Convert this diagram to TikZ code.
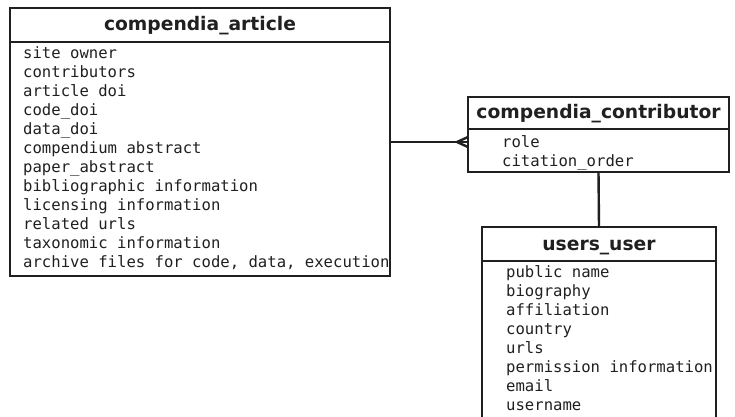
\documentclass[tikz,border=0pt]{standalone}
\usepackage{fontspec}
\setmainfont{DejaVu Sans}
\setmonofont{DejaVu Sans Mono}
\definecolor{linec}{HTML}{202020}
\definecolor{txt}{HTML}{202020}
\tikzset{
  ent/.style={draw=linec, line width=2.4pt, anchor=north west, inner sep=0pt, outer sep=0pt},
  hdr/.style={anchor=base, inner sep=0pt, font=\fontsize{18.7}{22}\selectfont\bfseries, text=txt},
  body/.style={anchor=base west, inner sep=0pt, font=\fontsize{15.6}{19}\selectfont\ttfamily, text=txt},
  rel/.style={draw=linec, line width=2.4pt}
}
\begin{document}
\begin{tikzpicture}[x=1pt,y=-1pt]
\useasboundingbox (0,0) rectangle (735,416);
\clip (0,0) rectangle (735,416);
\fill[white] (0,0) rectangle (735,416);
% compendia_article
\node[ent, minimum width=380, minimum height=34] (arthead) at (10,8) {};
\node[ent, minimum width=380, minimum height=234] (artbody) at (10,42) {};
\node[hdr] (arttitle) at (200,30) {compendia\_article};
\foreach \t [count=\i] in {site owner, contributors, article doi, code\_doi, data\_doi,
  compendium abstract, paper\_abstract, bibliographic information,
  licensing information, related urls, taxonomic information,
  {archive files for code, data, execution}}
  \node[body] (art\i) at (23,{58+19*(\i-1)}) {\t};
% compendia_contributor
\node[ent, minimum width=261, minimum height=32] (conhead) at (468,97) {};
\node[ent, minimum width=261, minimum height=43] (conbody) at (468,129) {};
\node[hdr] (context) at (598.5,118) {compendia\_contributor};
\node[body] (role) at (502,147) {role};
\node[body] (corder) at (502,166) {citation\_order};
% users_user
\node[ent, minimum width=234, minimum height=34] (usrhead) at (482,227) {};
\node[ent, minimum width=234, minimum height=200] (usrbody) at (482,261) {};
\node[hdr] (usrtitle) at (599,250) {users\_user};
\foreach \t [count=\i] in {public name, biography, affiliation, country, urls,
  permission information, email, username}
  \node[body] (usr\i) at (506,{277+19*(\i-1)}) {\t};
% relations
\coordinate (cf) at (conbody.west |- 0,142);
\draw[rel] (artbody.east |- cf) -- (cf);
\draw[rel, line join=miter] (cf) ++(0,-5) -- ++(-11,5) -- ++(11,5);
\draw[rel] (conbody.south) -- (usrhead.north);
\end{tikzpicture}
\end{document}
